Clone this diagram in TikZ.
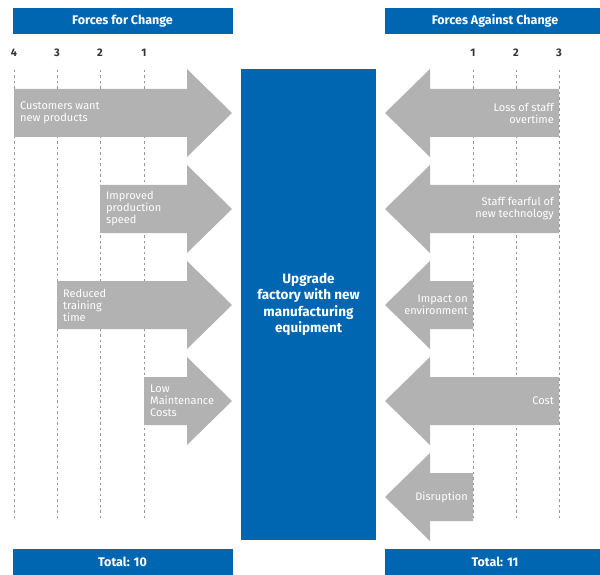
\documentclass[tikz,border=0pt]{standalone}
\usepackage{fontspec}
\setmainfont{Fira Sans}
\definecolor{forceblue}{RGB}{0,102,178}
\definecolor{forcegray}{RGB}{178,178,178}
\definecolor{guidegray}{RGB}{150,150,150}

\begin{document}
\begin{tikzpicture}[
    x=1pt,y=-1pt,
    band/.style={fill=forceblue,text=white,font=\fontsize{12.5}{14}\selectfont\bfseries,inner sep=0pt},
    force/.style={fill=forcegray},
    lbl/.style={text=white,font=\fontsize{11}{12}\selectfont,inner sep=0pt},
    tick/.style={text=black!80,font=\fontsize{11}{12}\selectfont\bfseries,inner sep=0pt},
    guide/.style={draw=guidegray,line width=.6pt,dash pattern=on 2.5pt off 3pt}
]
\useasboundingbox (0,0) rectangle (600,575);

% headers and totals
\node[band,minimum width=220,minimum height=26] (forhead) at (122.5,21) {Forces for Change};
\node[band,minimum width=220,minimum height=26] (againsthead) at (495,21) {Forces Against Change};
\node[band,minimum width=220,minimum height=26] (fortotal) at (122.5,562) {Total: 10};
\node[band,minimum width=220,minimum height=26] (againsttotal) at (495,562) {Total: 11};

% scale
\node[tick] (l4) at (14,53) {4};
\node[tick] (l3) at (57,53) {3};
\node[tick] (l2) at (100,53) {2};
\node[tick] (l1) at (144,53) {1};
\node[tick] (r1) at (473,53) {1};
\node[tick] (r2) at (516,53) {2};
\node[tick] (r3) at (559,53) {3};
\node[tick] (r4) at (603,53) {4};
\draw[guide] (14,70) -- (14,520);
\draw[guide] (57,70) -- (57,520);
\draw[guide] (100,70) -- (100,520);
\draw[guide] (144,70) -- (144,520);
\draw[guide] (473,70) -- (473,520);
\draw[guide] (516,70) -- (516,520);
\draw[guide] (559,70) -- (559,520);

% change
\node[band,minimum width=135,minimum height=471,align=center,
      font=\fontsize{13.5}{16.3}\selectfont\bfseries] (goal) at (308.5,304.5)
    {Upgrade\\factory with new\\manufacturing\\equipment};

% forces for
\fill[force] (14,89) -| (187,69) -- (232,113) -- (187,157) |- (14,137) -- cycle;
\fill[force] (100,185) -| (187,165) -- (232,209) -- (187,253) |- (100,233) -- cycle;
\fill[force] (57,281) -| (187,261) -- (232,305) -- (187,349) |- (57,329) -- cycle;
\fill[force] (144,377) -| (187,357) -- (232,401) -- (187,445) |- (144,425) -- cycle;
\node[lbl,anchor=west,align=left] (customers) at (20,113) {Customers want\\new products};
\node[lbl,anchor=west,align=left] (speed) at (106,209) {Improved\\production\\speed};
\node[lbl,anchor=west,align=left] (training) at (63,305) {Reduced\\training\\time};
\node[lbl,anchor=west,align=left] (maintenance) at (150,401) {Low\\Maintenance\\Costs};

% forces against
\fill[force] (559,89) -| (430,69) -- (385,113) -- (430,157) |- (559,137) -- cycle;
\fill[force] (559,185) -| (430,165) -- (385,209) -- (430,253) |- (559,233) -- cycle;
\fill[force] (473,281) -| (430,261) -- (385,305) -- (430,349) |- (473,329) -- cycle;
\fill[force] (559,377) -| (430,357) -- (385,401) -- (430,445) |- (559,425) -- cycle;
\fill[force] (473,473) -| (430,453) -- (385,497) -- (430,541) |- (473,521) -- cycle;
\node[lbl,anchor=east,align=right] (overtime) at (554,113) {Loss of staff\\overtime};
\node[lbl,anchor=east,align=right] (fearful) at (554,209) {Staff fearful of\\new technology};
\node[lbl,anchor=east,align=right] (environment) at (468,305) {Impact on\\environment};
\node[lbl,anchor=east,align=right] (cost) at (554,401) {Cost};
\node[lbl,anchor=east,align=right] (disruption) at (468,497) {Disruption};
\end{tikzpicture}
\end{document}
